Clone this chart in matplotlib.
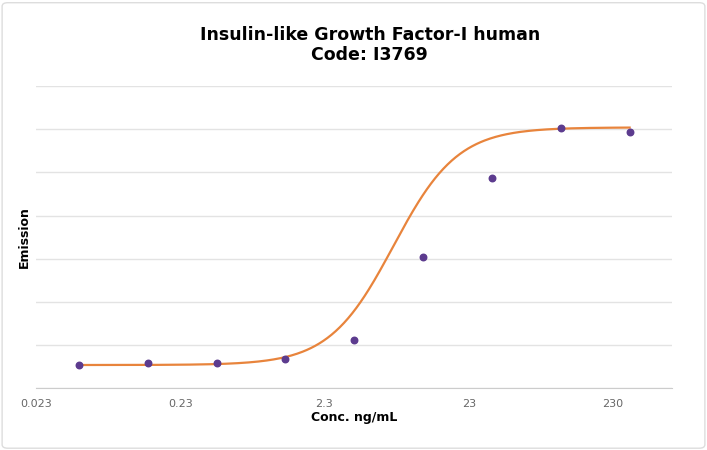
import matplotlib.pyplot as plt
import numpy as np
from matplotlib.patches import FancyBboxPatch

# measured points
conc = [0.0457, 0.137, 0.412, 1.23, 3.70, 11.1, 33.3, 100, 300]
emission = [0.54, 0.58, 0.58, 0.69, 1.12, 3.03, 4.87, 6.03, 5.93]

# 4PL curve parameters
bottom, top, ec50, hill = 0.54, 6.04, 6.9, 1.95

tick_vals = [0.023, 0.23, 2.3, 23, 230]
tick_labels = ['0.023', '0.23', '2.3', '23', '230']

fig = plt.figure(figsize=(7.07, 4.5), dpi=100)
ax = fig.add_axes([0.0509, 0.137, 0.8996, 0.672])

xs = np.logspace(np.log10(conc[0]), np.log10(conc[-1]), 400)
ys = bottom + (top - bottom) / (1 + (ec50 / xs) ** hill)
ax.plot(xs, ys, color='#E8843C', lw=1.6, zorder=3)
ax.scatter(conc, emission, s=22, color='#5C3B8E', zorder=4)

ax.set_xscale('log')
ax.set_xlim(0.023, 590)
ax.set_ylim(0, 7)
ax.set_xticks(tick_vals)
ax.set_xticklabels(tick_labels)
ax.minorticks_off()
ax.set_yticks(np.arange(0, 8, 1))
ax.set_yticklabels([])
ax.tick_params(axis='both', length=0, labelsize=8, labelcolor='#666666', pad=8)
ax.grid(axis='y', color='#e3e3e3', lw=1)
for s in ['top', 'right', 'left']:
    ax.spines[s].set_visible(False)
ax.spines['bottom'].set_color('#cccccc')
ax.set_axisbelow(True)

ax.set_xlabel('Conc. ng/mL', fontsize=9, fontweight='bold', labelpad=1)
fig.text(24 / 707, 1 - 237 / 450, 'Emission', rotation=90, ha='center', va='center',
         fontsize=9, fontweight='bold')
fig.text(0.523, 1 - 45 / 450, 'Insulin-like Growth Factor-I human\nCode: I3769',
         ha='center', va='center', fontsize=12.5, fontweight='bold',
         linespacing=1.2)

fig.patches.append(FancyBboxPatch((0.003, 0.004), 0.994, 0.99, transform=fig.transFigure,
                                  boxstyle='round,pad=0,rounding_size=0.008',
                                  fill=False, ec='#dddddd', lw=1))

fig.savefig('out.png', dpi=100)
